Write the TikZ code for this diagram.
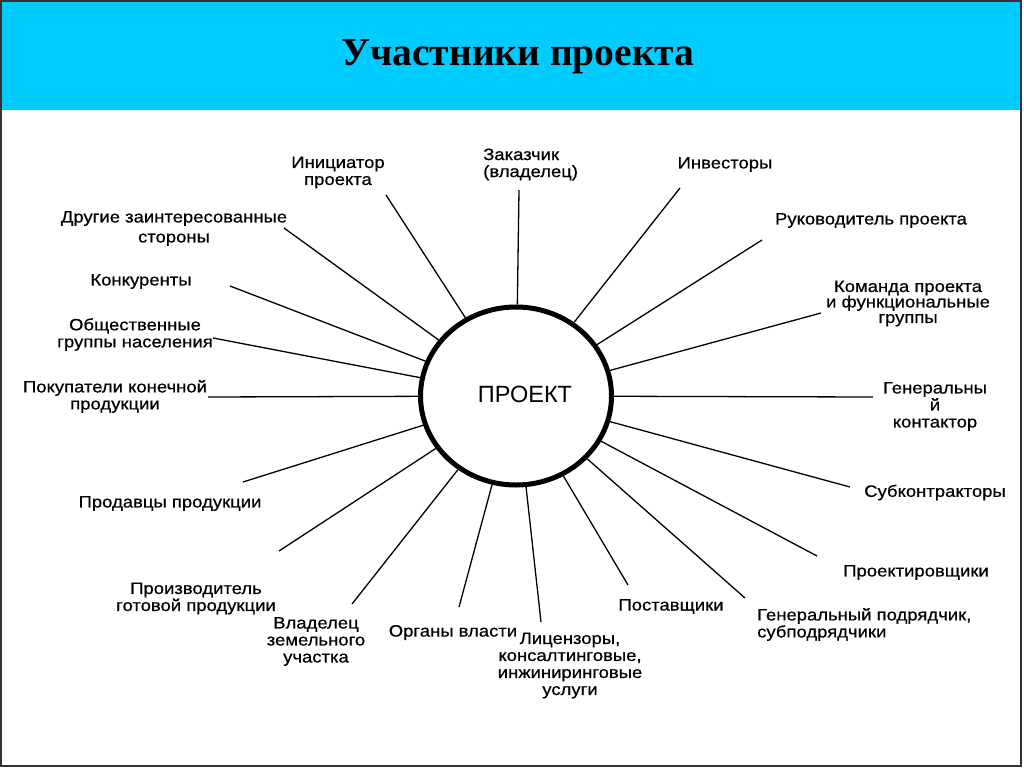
\documentclass[tikz,border=0pt]{standalone}
\usepackage{fontspec}
\setmainfont{Liberation Serif}
\setsansfont{Liberation Sans}
\newfontfamily\uchfont[FakeStretch=1.12,FakeBold=0.6]{Liberation Sans}
\usetikzlibrary{shapes.geometric}
\definecolor{shapka}{RGB}{0,204,255}

\begin{document}
\begin{tikzpicture}[x=1pt,y=-1pt,
	uchastnik/.style={font=\uchfont\fontsize{16.5}{17}\selectfont, align=center, inner sep=0pt, yshift=-2.5pt},
	luch/.style={line width=1.3pt}]
\useasboundingbox (0,0) rectangle (1024,768);
\fill[shapka] (0,0) rectangle (1022,110);
\draw[line width=1.5pt, black!80] (1,1) rectangle (1021,766);
\node[font=\rmfamily\bfseries\fontsize{39.5}{44}\selectfont] (zagolovok) at (518,57) {Участники проекта};

\node[ellipse, draw, line width=5pt, minimum width=191pt, minimum height=178pt] (proj) at (516,396) {};
\node[font=\sffamily\fontsize{23.5}{25}\selectfont] (projtext) at (525,394) {ПРОЕКТ};

% uchastniki
\node[uchastnik] (iniciator) at (338,170) {Инициатор\\проекта};
\node[uchastnik, anchor=west, align=left] (zakazchik) at (483,162) {Заказчик\\(владелец)};
\node[uchastnik] (investory) at (725,162) {Инвесторы};
\node[uchastnik] (rukovod) at (871,218) {Руководитель проекта};
\node[uchastnik, font=\uchfont\fontsize{16.5}{15.5}\selectfont] (komanda) at (908,301) {Команда проекта\\и функциональные\\группы};
\node[uchastnik] (genkont) at (935,404) {Генеральны\\й\\контактор};
\node[uchastnik] (subkont) at (935,490) {Субконтракторы};
\node[uchastnik] (proektir) at (916,570) {Проектировщики};
\node[uchastnik, anchor=west, align=left] (genpodr) at (757,622) {Генеральный подрядчик,\\субподрядчики};
\node[uchastnik] (postav) at (671,604) {Поставщики};
\node[uchastnik] (licenz) at (570,663) {Лицензоры,\\консалтинговые,\\инжиниринговые\\услуги};
\node[uchastnik] (organy) at (453,630) {Органы власти};
\node[uchastnik] (vladelec) at (316,639) {Владелец\\земельного\\участка};
\node[uchastnik] (proizv) at (196,596) {Производитель\\готовой продукции};
\node[uchastnik] (prodavcy) at (170,501) {Продавцы продукции};
\node[uchastnik] (pokupat) at (115,394) {Покупатели конечной\\продукции};
\node[uchastnik] (obshch) at (135,332) {Общественные\\группы населения};
\node[uchastnik] (konkur) at (141,279) {Конкуренты};
\node[uchastnik, font=\uchfont\fontsize{16.5}{20}\selectfont] (drugie) at (174,226) {Другие заинтересованные\\стороны};

% koncy luchej
\coordinate (iniciator-k) at (386,195);
\coordinate (zakazchik-k) at (519,190);
\coordinate (investory-k) at (680,188);
\coordinate (rukovod-k) at (762,240);
\coordinate (komanda-k) at (821,313);
\coordinate (genkont-k) at (873,397);
\coordinate (subkont-k) at (850,487);
\coordinate (proektir-k) at (817,556);
\coordinate (genpodr-k) at (745,598);
\coordinate (postav-k) at (628,585);
\coordinate (licenz-k) at (541,622);
\coordinate (organy-k) at (459,607);
\coordinate (vladelec-k) at (352,604);
\coordinate (proizv-k) at (279,551);
\coordinate (prodavcy-k) at (243,482);
\coordinate (pokupat-k) at (208,397);
\coordinate (obshch-k) at (213,338);
\coordinate (konkur-k) at (230,286);
\coordinate (drugie-k) at (284,228);

\foreach \u in {iniciator,zakazchik,investory,rukovod,komanda,genkont,subkont,proektir,genpodr,
	postav,licenz,organy,vladelec,proizv,prodavcy,pokupat,obshch,konkur,drugie}
	\draw[luch] (\u-k) -- (proj);
\end{tikzpicture}
\end{document}
